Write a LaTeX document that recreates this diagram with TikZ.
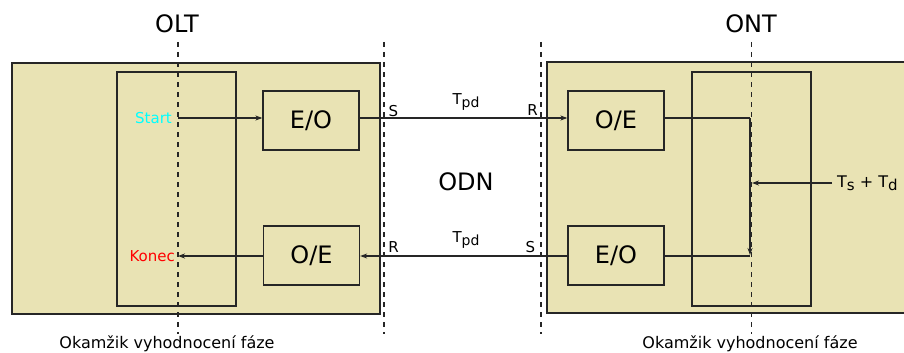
\documentclass[tikz,border=0pt]{standalone}
\usepackage{fontspec}
\setmainfont{DejaVu Sans}
\usetikzlibrary{arrows.meta}
\definecolor{khaki}{RGB}{233,227,180}
\definecolor{startc}{RGB}{0,255,255}
\definecolor{konecc}{RGB}{255,0,0}
\begin{document}
\begin{tikzpicture}[x=1pt,y=-1pt,
  bigbox/.style={draw=black!85,line width=1.3pt,fill=khaki},
  inner/.style={draw=black!85,line width=1.3pt},
  conv/.style={draw=black!85,line width=1.3pt,fill=khaki,minimum width=96pt,minimum height=59pt,inner sep=0pt,font=\fontsize{24}{24}\selectfont},
  vline/.style={black!85,line width=1.2pt,dash pattern=on 5pt off 5pt},
  sig/.style={black!85,line width=1.1pt},
  arr/.style={sig,-{Stealth[length=7pt,width=5pt]}},
  big/.style={font=\fontsize{24}{24}\selectfont,inner sep=0pt},
  lab/.style={font=\fontsize{15}{15}\selectfont,inner sep=0pt},
  bottom/.style={font=\fontsize{16}{16}\selectfont,inner sep=0pt,anchor=base}]
\useasboundingbox (0,0) rectangle (904,353);
% outer boxes
\draw[bigbox] (12,63) rectangle (380,314);
\draw[bigbox] (547,62) rectangle (912,313);
\draw[inner] (117,72) rectangle (236,306);
\draw[inner] (692,72) rectangle (811,306);
% converter boxes
\node[conv] (eoL) at (311,120.5) {E/O};
\node[conv] (oeL) at (311.5,255.5) {O/E};
\node[conv] (oeR) at (616,120.5) {O/E};
\node[conv] (eoR) at (616,255.5) {E/O};
% dashed reference lines
\coordinate (olt1) at (178,42); \coordinate (olt2) at (178,334);
\coordinate (s1) at (384,42); \coordinate (s2) at (384,334);
\coordinate (r1) at (541,42); \coordinate (r2) at (541,334);
\coordinate (ont1) at (751.5,42); \coordinate (ont2) at (751.5,334);
\draw[vline] (olt1) -- (olt2);
\draw[vline] (s1) -- (s2);
\draw[vline] (r1) -- (r2);
\draw[vline] (ont1) -- (ont2);
% titles
\node[big] (olt) at (177,24) {OLT};
\node[big] (ont) at (751,24) {ONT};
\node[big] (odn) at (466,182) {ODN};
% signals
\coordinate (startpt) at (178,118);
\coordinate (konecpt) at (178,256);
\node[lab,anchor=east,text=startc] (start) at (172,118) {Start};
\node[lab,anchor=east,text=konecc] (konec) at (175,256) {Konec};
\draw[arr] (startpt) -- (eoL.west |- startpt);
\draw[arr] (eoL.east |- startpt) -- (oeR.west |- startpt);
\coordinate (turn1) at (750,118);
\coordinate (turn2) at (750,255);
\coordinate (turn3) at (750,256);
\draw[sig] (oeR.east |- turn1) -- (turn1);
\draw[arr] (turn1) -- (turn2);
\draw[sig] (eoR.east |- turn3) -- (turn3);
\draw[arr] (eoR.west |- turn3) -- (oeL.east |- turn3);
\draw[arr] (oeL.west |- konecpt) -- (konecpt);
\coordinate (tsd) at (832,183);
\coordinate (tsdend) at (752,183);
\draw[arr] (tsd) -- (tsdend);
\node[font=\fontsize{16}{16}\selectfont,inner sep=0pt,anchor=west] (tsdlab) at (837,183) {T\raisebox{-3pt}{\fontsize{15}{15}\selectfont s} + T\raisebox{-3pt}{\fontsize{15}{15}\selectfont d}};
% S/R labels
\node[lab] (sL) at (393.5,111.5) {S};
\node[lab] (rR) at (532.5,110.5) {R};
\node[lab] (rL) at (393.5,247) {R};
\node[lab] (sR) at (530.5,247.5) {S};
\node[lab] (tpd1) at (466,102) {T\raisebox{-3pt}{\fontsize{14}{14}\selectfont pd}};
\node[lab] (tpd2) at (466,240) {T\raisebox{-3pt}{\fontsize{14}{14}\selectfont pd}};
% bottom texts
\node[bottom] (okL) at (167,348.5) {Okamžik vyhodnocení fáze};
\node[bottom] (okR) at (750,348.5) {Okamžik vyhodnocení fáze};
\end{tikzpicture}
\end{document}
